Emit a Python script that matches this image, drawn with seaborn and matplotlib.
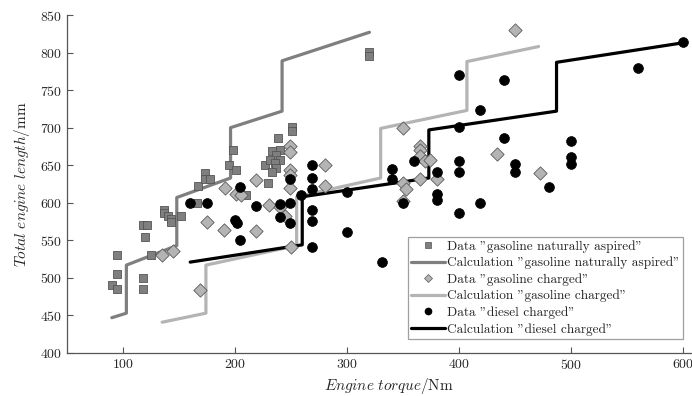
import matplotlib
matplotlib.use("Agg")
import matplotlib.pyplot as plt
from matplotlib.lines import Line2D
import seaborn as sns

# data "gasoline naturally aspired"
na_x = [90, 95, 95, 95, 118, 118, 118, 121, 120, 125, 137, 137, 140, 143, 143, 152,
        166, 167, 173, 173, 178, 195, 198, 201, 210, 229, 227, 233, 240, 237, 240,
        231, 236, 237, 233, 238, 251, 251, 320, 320]
na_y = [490, 485, 505, 530, 500, 485, 570, 570, 555, 530, 590, 586, 582, 579, 575, 583,
        600, 623, 640, 631, 631, 650, 670, 643, 610, 626, 650, 669, 670, 664, 657,
        657, 653, 646, 641, 686, 701, 695, 801, 795]

# data "gasoline charged"
gc_x = [135, 145, 169, 175, 190, 191, 201, 205, 219, 219, 230, 240, 245, 249, 249,
        249, 249, 249, 250, 280, 280, 350, 365, 365, 365, 370, 374, 380, 365, 350,
        353, 350, 434, 472, 450]
gc_y = [531, 536, 484, 575, 564, 620, 612, 610, 563, 630, 597, 595, 583, 675, 668,
        644, 637, 620, 541, 650, 622, 700, 676, 670, 662, 655, 657, 631, 631, 626,
        619, 603, 665, 640, 830]

# data "diesel charged"
dc_x = [160, 175, 200, 202, 204, 204, 219, 240, 240, 249, 249, 249, 259, 269, 269,
        269, 269, 269, 269, 300, 300, 331, 340, 340, 350, 360, 380, 380, 380, 400,
        400, 400, 400, 400, 419, 419, 440, 440, 450, 450, 480, 500, 500, 500, 560, 600]
dc_y = [600, 600, 577, 573, 621, 550, 596, 599, 581, 600, 573, 631, 611, 650, 633,
        618, 591, 576, 541, 615, 561, 521, 645, 631, 600, 656, 641, 612, 604, 770,
        701, 656, 641, 586, 724, 600, 764, 686, 652, 641, 621, 682, 661, 652, 780, 814]

# calculation curves
na_cx = [90, 103, 103, 148, 148, 196, 196, 242, 242, 320]
na_cy = [447, 453, 517, 543, 607, 633, 700, 722, 789, 827]
gc_cx = [135, 174, 174, 255, 255, 330, 330, 407, 407, 471]
gc_cy = [441, 453, 517, 543, 608, 633, 699, 723, 788, 808]
dc_cx = [160, 260, 260, 373, 373, 487, 487, 600]
dc_cy = [521, 544, 608, 633, 697, 722, 787, 813]

labels = ['Data "gasoline naturally aspired"', 'Calculation "gasoline naturally aspired"',
          'Data "gasoline charged"', 'Calculation "gasoline charged"',
          'Data "diesel charged"', 'Calculation "diesel charged"']

sns.set_style("ticks")
plt.rcParams["font.family"] = ["cmr10"]
plt.rcParams["mathtext.fontset"] = "cm"
plt.rcParams["axes.formatter.use_mathtext"] = True

c_na = "#7f7f7f"
c_gc = "#b4b4b4"
c_dc = "black"

fig = plt.figure(figsize=(6.92, 3.96), dpi=100)
ax = fig.add_axes([67 / 692, 1 - 353 / 396, 643 / 692, 338 / 396])

lw = 2.3
sns.lineplot(x=na_cx, y=na_cy, sort=False, estimator=None, color=c_na, lw=lw, ax=ax, zorder=2)
sns.lineplot(x=gc_cx, y=gc_cy, sort=False, estimator=None, color=c_gc, lw=lw, ax=ax, zorder=2)
sns.lineplot(x=dc_cx, y=dc_cy, sort=False, estimator=None, color=c_dc, lw=lw, ax=ax, zorder=2)

sns.scatterplot(x=na_x, y=na_y, marker="s", s=40, color=c_na, edgecolor="#555555",
                linewidth=0.6, ax=ax, zorder=3)
sns.scatterplot(x=gc_x, y=gc_y, marker="D", s=46, color=c_gc, edgecolor="#5a5a5a",
                linewidth=0.6, ax=ax, zorder=3)
sns.scatterplot(x=dc_x, y=dc_y, marker="o", s=50, color=c_dc, edgecolor="black",
                linewidth=0.5, ax=ax, zorder=4)

ax.set_xlim(50, 624)
ax.set_ylim(400, 850)
ax.set_xticks([100, 200, 300, 400, 500, 600])
ax.set_yticks([400, 450, 500, 550, 600, 650, 700, 750, 800, 850])
ax.tick_params(direction="in", length=4, width=0.8, color="#555555", labelsize=10,
               labelcolor="#262626")
for side in ["left", "bottom"]:
    ax.spines[side].set_color("#555555")
    ax.spines[side].set_linewidth(0.9)
sns.despine(ax=ax)

ax.set_xlabel(r"$Engine\ torque/\mathrm{Nm}$", fontsize=11, color="#262626", labelpad=3)
ax.set_ylabel(r"$Total\ engine\ length/\mathrm{mm}$", fontsize=11, color="#262626", labelpad=6)

handles = [
    Line2D([], [], ls="none", marker="s", ms=4.5, mfc=c_na, mec="#555555", mew=0.5),
    Line2D([], [], color=c_na, lw=lw),
    Line2D([], [], ls="none", marker="D", ms=4.5, mfc=c_gc, mec="#5a5a5a", mew=0.5),
    Line2D([], [], color=c_gc, lw=lw),
    Line2D([], [], ls="none", marker="o", ms=4.5, mfc=c_dc, mec="black"),
    Line2D([], [], color=c_dc, lw=lw),
]
leg = ax.legend(handles, labels, loc="lower left",
                bbox_to_anchor=((408 - 67) / 643, (353 - 339) / 338),
                borderaxespad=0, fontsize=9.6, frameon=True, fancybox=False,
                handlelength=2.5, handletextpad=0.15, labelspacing=0.3,
                borderpad=0.25, edgecolor="#888888")
leg.get_frame().set_linewidth(0.9)

fig.savefig("out.png", dpi=100)
